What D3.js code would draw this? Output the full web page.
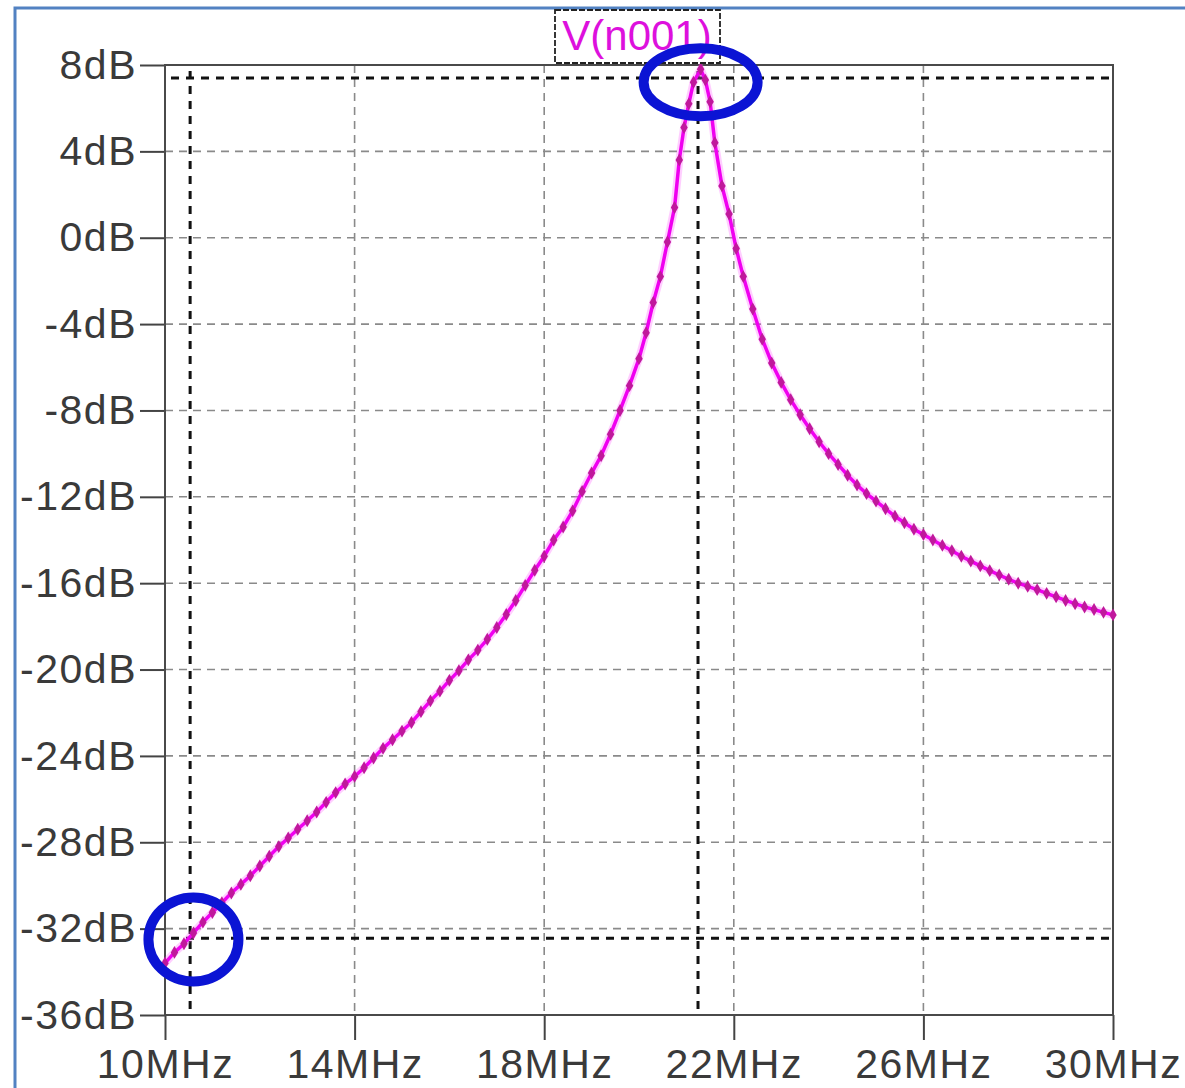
<!DOCTYPE html>
<html lang="en">
<head>
    <meta charset="UTF-8">
    <title>V(n001)</title>
    <style>
        body{
            margin: 0;
            background: #fff;
        }
        svg text{
            font-family: "Liberation Sans", Arial, sans-serif;
        }
    </style>
</head>
<body>
    <div id="plot"></div>
    <script src="https://d3js.org/d3.v7.min.js"></script>
    <script>
        // frequency in MHz, gain in dB
        var freq = [10.0,10.2,10.4,10.6,10.8,11.0,11.2,11.4,11.6,11.8,12.0,12.2,12.4,12.6,12.8,13.0,13.2,13.4,13.6,13.8,
            14.0,14.2,14.4,14.6,14.8,15.0,15.2,15.4,15.6,15.8,16.0,16.2,16.4,16.6,16.8,17.0,17.2,17.4,17.6,17.8,
            18.0,18.2,18.4,18.6,18.8,19.0,19.2,19.4,19.6,19.8,20.0,20.15,20.3,20.45,20.6,20.75,20.85,20.95,21.05,21.15,
            21.3,21.4,21.5,21.6,21.75,21.9,22.05,22.2,22.4,22.6,22.8,23.0,23.2,23.4,23.6,23.8,24.0,24.2,24.4,24.6,
            24.8,25.0,25.2,25.4,25.6,25.8,26.0,26.2,26.4,26.6,26.8,27.0,27.2,27.4,27.6,27.8,28.0,28.2,28.4,28.6,
            28.8,29.0,29.2,29.4,29.6,29.8,30.0];
        var gain = [-33.6,-33.1,-32.7,-32.2,-31.7,-31.25,-30.8,-30.35,-29.95,-29.55,-29.1,-28.65,-28.2,-27.8,-27.4,-27.0,-26.6,-26.15,-25.7,-25.3,
            -24.95,-24.55,-24.1,-23.65,-23.25,-22.85,-22.45,-21.95,-21.45,-21.0,-20.5,-20.05,-19.55,-19.1,-18.6,-18.05,-17.45,-16.8,-16.1,-15.4,
            -14.75,-14.0,-13.4,-12.65,-11.75,-10.9,-10.1,-9.1,-8.0,-6.85,-5.6,-4.4,-3.0,-1.8,-0.2,1.4,3.6,5.1,6.2,7.2,
            7.8,7.3,6.3,4.4,2.4,1.1,-0.5,-1.8,-3.3,-4.7,-5.8,-6.7,-7.5,-8.2,-8.85,-9.45,-10.0,-10.5,-11.0,-11.45,
            -11.85,-12.2,-12.55,-12.9,-13.2,-13.5,-13.75,-14.0,-14.25,-14.5,-14.75,-14.98,-15.2,-15.42,-15.62,-15.82,-16.0,-16.15,-16.3,-16.47,
            -16.63,-16.8,-16.95,-17.1,-17.22,-17.35,-17.47];
        var xTicks = [10,14,18,22,26,30];
        var yTicks = [8,4,0,-4,-8,-12,-16,-20,-24,-28,-32,-36];
        // cursor positions [MHz, dB]
        var cursorF = [10.53, 21.245];
        var cursorDb = [-32.44, 7.4];
        var traceName = "V(n001)";

        var W = 1185, H = 1088;
        var pl = 165, pr = 1113, pt = 65, pb = 1015;

        var svg = d3.select("#plot").append("svg")
            .attr("width", W)
            .attr("height", H);

        var x = d3.scaleLinear().domain([10,30]).range([pl,pr]);
        var y = d3.scaleLinear().domain([-36,8]).range([pb,pt]);

        // blue picture frame (top + left edges)
        svg.append("path")
            .attr("d","M15,1090 L15,8 L1190,8")
            .attr("fill","none")
            .attr("stroke","#5282c2")
            .attr("stroke-width",3);

        // grid
        var grid = svg.append("g");
        grid.selectAll(".gx")
            .data(xTicks.slice(1,-1))
            .enter().append("line")
            .attr("x1",function(d){ return x(d); })
            .attr("x2",function(d){ return x(d); })
            .attr("y1",pt).attr("y2",pb)
            .attr("stroke","#8a8a8a")
            .attr("stroke-width",1.6)
            .attr("stroke-dasharray","8,6");
        grid.selectAll(".gy")
            .data(yTicks.slice(1,-1))
            .enter().append("line")
            .attr("y1",function(d){ return y(d); })
            .attr("y2",function(d){ return y(d); })
            .attr("x1",pl).attr("x2",pr)
            .attr("stroke","#8a8a8a")
            .attr("stroke-width",1.6)
            .attr("stroke-dasharray","8,6");

        // axes
        var yAxis = svg.append("g")
            .attr("transform","translate(" + pl + ",0)")
            .call(d3.axisLeft(y).tickValues(yTicks).tickSize(25).tickPadding(3)
                .tickFormat(function(d){ return d + "dB"; }));
        var xAxis = svg.append("g")
            .attr("transform","translate(0," + pb + ")")
            .call(d3.axisBottom(x).tickValues(xTicks).tickSize(25).tickPadding(9)
                .tickFormat(function(d){ return d + "MHz"; }));
        [yAxis, xAxis].forEach(function(a){
            a.select(".domain").remove();
            a.selectAll(".tick line").attr("stroke","#444").attr("stroke-width",2);
            a.selectAll(".tick text")
                .attr("fill","#3a3a3a")
                .style("font-size","41px")
                .style("letter-spacing","1.5px");
        });

        // plot frame
        svg.append("rect")
            .attr("x",pl).attr("y",pt)
            .attr("width",pr-pl).attr("height",pb-pt)
            .attr("fill","none")
            .attr("stroke","#4a4a4a")
            .attr("stroke-width",2);

        // cursors
        var cur = svg.append("g");
        cursorF.forEach(function(f,i){
            cur.append("line")
                .attr("x1",x(f)).attr("x2",x(f))
                .attr("y1",pt+6).attr("y2",pb-6)
                .attr("stroke","#111").attr("stroke-width",3)
                .attr("stroke-dasharray","8,7");
            cur.append("line")
                .attr("y1",y(cursorDb[i])).attr("y2",y(cursorDb[i]))
                .attr("x1",pl+6).attr("x2",pr-2)
                .attr("stroke","#111").attr("stroke-width",3)
                .attr("stroke-dasharray","8,7");
        });

        // trace
        var pts = freq.map(function(f,i){ return [f, gain[i]]; });
        var line = d3.line()
            .x(function(d){ return x(d[0]); })
            .y(function(d){ return y(d[1]); });
        svg.append("path")
            .datum(pts)
            .attr("d",line)
            .attr("fill","none")
            .attr("stroke","#ff5cff")
            .attr("stroke-width",8)
            .attr("stroke-opacity",0.3);
        svg.append("path")
            .datum(pts)
            .attr("d",line)
            .attr("fill","none")
            .attr("stroke","#f000f0")
            .attr("stroke-width",3.5);
        svg.append("g").selectAll(".dot")
            .data(pts)
            .enter().append("path")
            .attr("d",d3.symbol().type(d3.symbolDiamond).size(48))
            .attr("transform",function(d){ return "translate(" + x(d[0]) + "," + y(d[1]) + ")"; })
            .attr("fill","#c0189c");

        // trace label
        svg.append("rect")
            .attr("x",555).attr("y",10)
            .attr("width",165).attr("height",53)
            .attr("fill","#fff")
            .attr("stroke","#222")
            .attr("stroke-width",1.8)
            .attr("stroke-dasharray","6,2");
        svg.append("text")
            .attr("x",637).attr("y",50)
            .attr("text-anchor","middle")
            .attr("fill","#dd10dd")
            .style("font-size","42px")
            .text(traceName);

        // blue hand-drawn marks around the cursors
        svg.append("ellipse")
            .attr("cx",x(21.3)).attr("cy",y(7.2))
            .attr("rx",57).attr("ry",34)
            .attr("fill","none")
            .attr("stroke","#0b14d4")
            .attr("stroke-width",10);
        svg.append("ellipse")
            .attr("cx",x(10.6)).attr("cy",y(-32.5))
            .attr("rx",45).attr("ry",42)
            .attr("fill","none")
            .attr("stroke","#0b14d4")
            .attr("stroke-width",10);
    </script>
</body>
</html>
